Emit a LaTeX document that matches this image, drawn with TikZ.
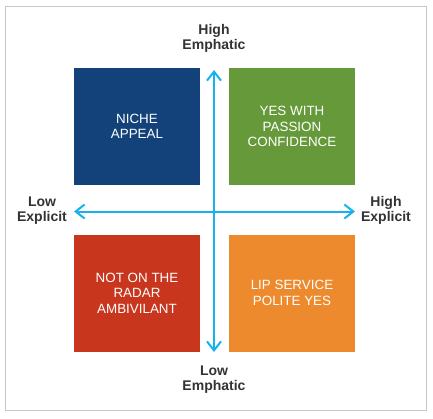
\documentclass[tikz,border=0pt]{standalone}
\usepackage{fontspec}
\setmainfont{Liberation Sans}
\usepackage{tikz}
\usetikzlibrary{arrows.meta}
\definecolor{QuadBlue}{RGB}{19, 66, 123}
\definecolor{QuadGreen}{RGB}{102, 153, 58}
\definecolor{QuadRed}{RGB}{201, 54, 30}
\definecolor{QuadOrange}{RGB}{237, 138, 45}
\definecolor{AxisCyan}{RGB}{22, 178, 236}
\definecolor{FrameGray}{RGB}{200, 200, 200}
\definecolor{LabelGray}{RGB}{51, 51, 51}
\tikzset{
  quad/.style={minimum width=126pt, minimum height=117pt, inner sep=0pt, outer sep=0pt,
    text=white, align=center, font=\fontsize{13.4}{15.6}\selectfont},
  axislabel/.style={align=center, text=LabelGray, font=\bfseries\fontsize{14}{15}\selectfont},
  axis/.style={draw=AxisCyan, line width=2pt, {Straight Barb[length=9pt,width=14pt,line width=2pt]}-{Straight Barb[length=9pt,width=14pt,line width=2pt]}}
}

\begin{document}
\begin{tikzpicture}[x=1pt, y=-1pt]
    \useasboundingbox (0,0) rectangle (433,418);
    % Frame
    \draw[FrameGray, line width=1.2pt] (5.5,6.5) rectangle (426.5,410.5);

    % Quadrants
    \node[quad, fill=QuadBlue] (niche) at (137,126.5) {NICHE\\APPEAL};
    \node[quad, fill=QuadGreen] (passion) at (292,126.5) {YES WITH\\PASSION\\CONFIDENCE};
    \node[quad, fill=QuadRed] (radar) at (137,293) {NOT ON THE\\RADAR\\AMBIVILANT};
    \node[quad, fill=QuadOrange] (polite) at (292,293) {LIP SERVICE\\POLITE YES};

    % Axes
    \coordinate (top) at (214,70);
    \coordinate (bottom) at (214,352);
    \coordinate (left) at (74,211.5);
    \coordinate (right) at (355,211.5);
    \draw[axis] (bottom) -- (top);
    \draw[axis] (left) -- (right);

    % Labels
    \node[axislabel] (highemph) at (214,38.5) {High\\Emphatic};
    \node[axislabel] (lowemph) at (214,379.5) {Low\\Emphatic};
    \node[axislabel] (lowexpl) at (42,210.5) {Low\\Explicit};
    \node[axislabel] (highexpl) at (386,210.5) {High\\Explicit};
  \end{tikzpicture}
\end{document}
